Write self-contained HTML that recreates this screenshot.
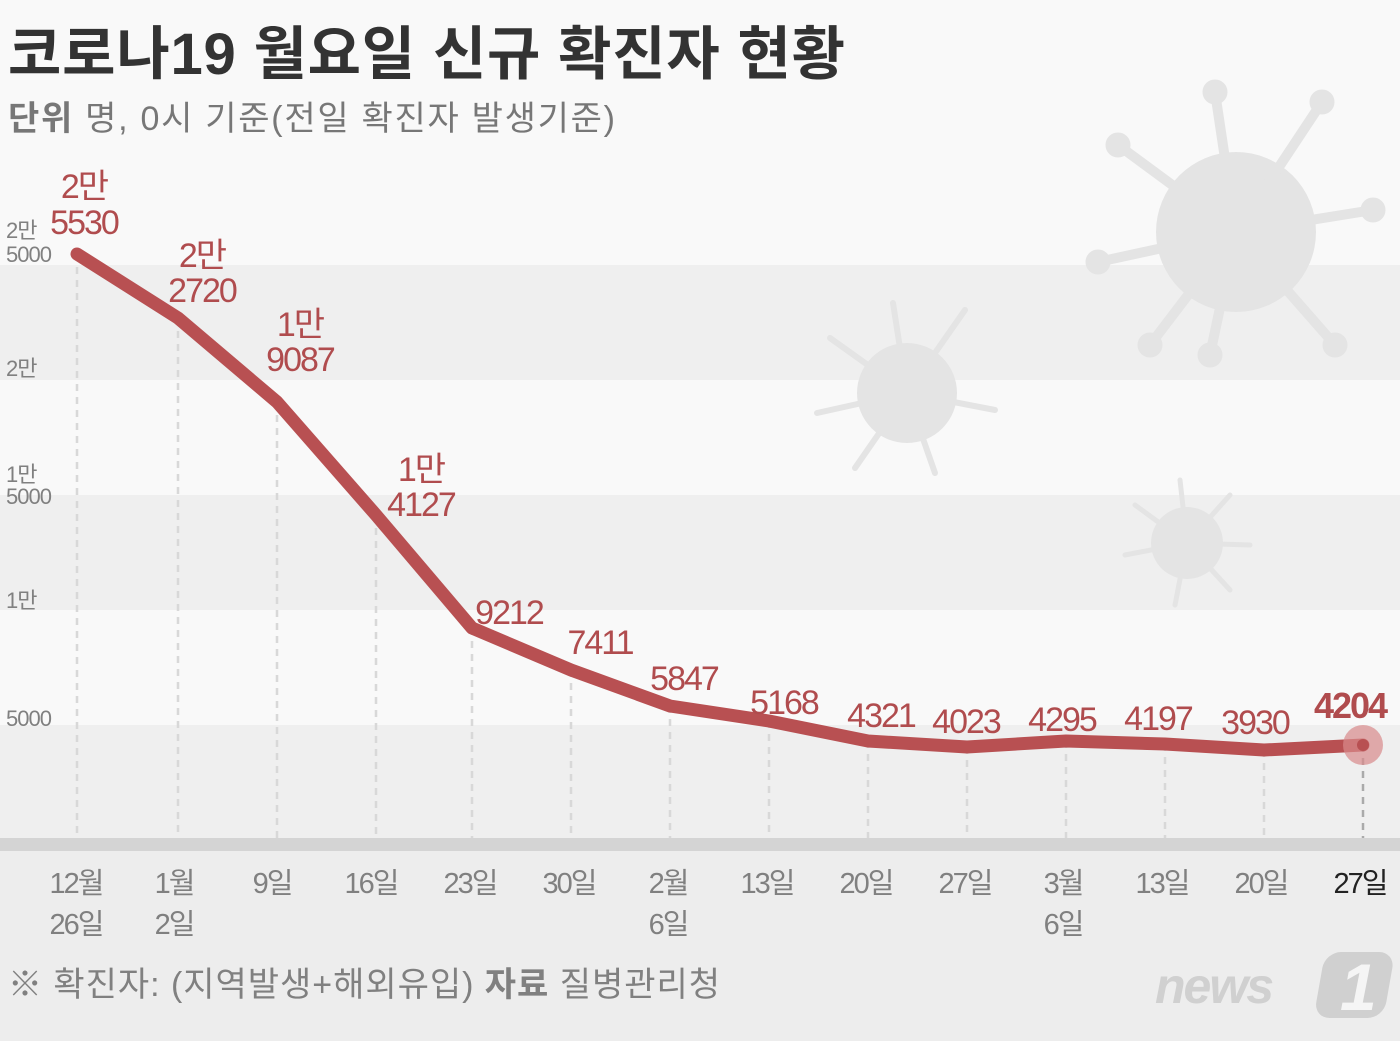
<!DOCTYPE html>
<html><head><meta charset="utf-8"><style>
body{margin:0;width:1400px;height:1041px;overflow:hidden;background:#f9f9f9}
svg{display:block}
text{font-family:"Liberation Sans","Noto Sans CJK KR",sans-serif}
</style></head><body>
<svg width="1400" height="1041" viewBox="0 0 1400 1041">
<rect width="1400" height="1041" fill="#f9f9f9"/>
<rect y="265" width="1400" height="115" fill="#efefef"/>
<rect y="495" width="1400" height="115" fill="#efefef"/>
<rect y="725" width="1400" height="115" fill="#efefef"/>
<rect y="850" width="1400" height="191" fill="#ededed"/>
<rect y="838" width="1400" height="13" fill="#d4d4d4"/>
<g fill="#e4e4e4" stroke="#e4e4e4" stroke-linecap="round">
<circle cx="1236" cy="232" r="80" stroke="none"/>
<g stroke-width="10">
<line x1="1236" y1="232" x2="1215" y2="92"/><line x1="1236" y1="232" x2="1322" y2="102"/>
<line x1="1236" y1="232" x2="1373" y2="210"/><line x1="1236" y1="232" x2="1335" y2="345"/>
<line x1="1236" y1="232" x2="1210" y2="355"/><line x1="1236" y1="232" x2="1098" y2="262"/>
<line x1="1236" y1="232" x2="1118" y2="145"/><line x1="1236" y1="232" x2="1150" y2="345"/>
</g>
<circle cx="1215" cy="92" r="12"/><circle cx="1322" cy="102" r="12"/><circle cx="1373" cy="210" r="12"/>
<circle cx="1335" cy="345" r="12"/><circle cx="1210" cy="355" r="12"/><circle cx="1098" cy="262" r="12"/>
<circle cx="1118" cy="145" r="12"/><circle cx="1150" cy="345" r="12"/>
<circle cx="907" cy="393" r="50" stroke="none"/>
<g stroke-width="6">
<line x1="907" y1="393" x2="893" y2="303"/><line x1="907" y1="393" x2="965" y2="310"/>
<line x1="907" y1="393" x2="995" y2="410"/><line x1="907" y1="393" x2="935" y2="473"/>
<line x1="907" y1="393" x2="855" y2="468"/><line x1="907" y1="393" x2="817" y2="413"/>
<line x1="907" y1="393" x2="830" y2="338"/>
</g>
<circle cx="1187" cy="543" r="36" stroke="none"/>
<g stroke-width="5">
<line x1="1187" y1="543" x2="1180" y2="480"/><line x1="1187" y1="543" x2="1230" y2="495"/>
<line x1="1187" y1="543" x2="1250" y2="545"/><line x1="1187" y1="543" x2="1230" y2="590"/>
<line x1="1187" y1="543" x2="1175" y2="605"/><line x1="1187" y1="543" x2="1125" y2="555"/>
<line x1="1187" y1="543" x2="1135" y2="505"/>
</g>
</g>
<g stroke="#d8d8d8" stroke-width="2.5" stroke-dasharray="7,6">
<line x1="77" y1="254" x2="77" y2="838"/><line x1="178" y1="318" x2="178" y2="838"/>
<line x1="277" y1="402" x2="277" y2="838"/><line x1="376" y1="515" x2="376" y2="838"/>
<line x1="472" y1="628" x2="472" y2="838"/><line x1="571" y1="670" x2="571" y2="838"/>
<line x1="670" y1="706" x2="670" y2="838"/><line x1="769" y1="721" x2="769" y2="838"/>
<line x1="868" y1="741" x2="868" y2="838"/><line x1="967" y1="747" x2="967" y2="838"/>
<line x1="1066" y1="741" x2="1066" y2="838"/><line x1="1165" y1="744" x2="1165" y2="838"/>
<line x1="1264" y1="750" x2="1264" y2="838"/><line x1="1363" y1="745" x2="1363" y2="838" stroke="#aaa"/>
</g>
<polyline fill="none" stroke="#b85052" stroke-width="13" stroke-linecap="round" stroke-linejoin="round"
points="77,254 178,318 277,402 376,515 472,628 571,670 670,706 769,721 868,741 967,747 1066,741 1165,744 1264,750 1363,745"/>
<circle cx="1363" cy="745" r="20" fill="#d98a8c" opacity="0.7"/>
<circle cx="1363" cy="745" r="6" fill="#b85052"/>
<g fill="#b04c4e" font-size="34" text-anchor="middle" letter-spacing="-2">
<text x="84" y="198">2만</text><text x="84" y="234">5530</text>
<text x="202" y="267">2만</text><text x="202" y="302">2720</text>
<text x="300" y="336">1만</text><text x="300" y="371">9087</text>
<text x="421" y="481">1만</text><text x="421" y="516">4127</text>
<text x="509" y="624">9212</text><text x="600" y="654">7411</text>
<text x="684" y="690">5847</text><text x="784" y="714">5168</text>
<text x="881" y="727">4321</text><text x="966" y="733">4023</text>
<text x="1062" y="731">4295</text><text x="1158" y="730">4197</text>
<text x="1255" y="734">3930</text>
<text x="1350" y="718" font-weight="bold" font-size="36">4204</text>
</g>
<g fill="#808080" font-size="22" letter-spacing="-1">
<text x="6" y="238">2만</text><text x="6" y="262">5000</text>
<text x="6" y="376">2만</text>
<text x="6" y="482">1만</text><text x="6" y="504">5000</text>
<text x="6" y="608">1만</text>
<text x="6" y="726">5000</text>
</g>
<g fill="#808080" font-size="29" text-anchor="middle" letter-spacing="-2">
<text x="76" y="893">12월</text><text x="76" y="934">26일</text>
<text x="174" y="893">1월</text><text x="174" y="934">2일</text>
<text x="272" y="893">9일</text><text x="371" y="893">16일</text>
<text x="470" y="893">23일</text><text x="569" y="893">30일</text>
<text x="668" y="893">2월</text><text x="668" y="934">6일</text>
<text x="767" y="893">13일</text><text x="866" y="893">20일</text>
<text x="965" y="893">27일</text>
<text x="1063" y="893">3월</text><text x="1063" y="934">6일</text>
<text x="1162" y="893">13일</text><text x="1261" y="893">20일</text>
<text x="1360" y="893" fill="#222">27일</text>
</g>
<text x="8" y="74" font-size="58" font-weight="bold" fill="#333" textLength="837" lengthAdjust="spacing">코로나19 월요일 신규 확진자 현황</text>
<text x="8" y="130" font-size="34" fill="#777" textLength="607" lengthAdjust="spacing"><tspan font-weight="bold">단위</tspan>  명, 0시 기준(전일 확진자 발생기준)</text>
<text x="8" y="996" font-size="34" fill="#808080" textLength="712" lengthAdjust="spacing">※ 확진자: (지역발생+해외유입)  <tspan font-weight="bold">자료</tspan>  질병관리청</text>
<text x="1155" y="1003" font-size="50" font-weight="bold" font-style="italic" fill="#d0d0d0" letter-spacing="-2">news</text>
<rect x="1318" y="952" width="70" height="66" rx="16" fill="#d0d0d0" transform="skewX(-10) translate(175,0)"/>
<text x="1340" y="1010" font-size="66" font-weight="bold" font-style="italic" fill="#f5f5f5">1</text>
</svg>
</body></html>
